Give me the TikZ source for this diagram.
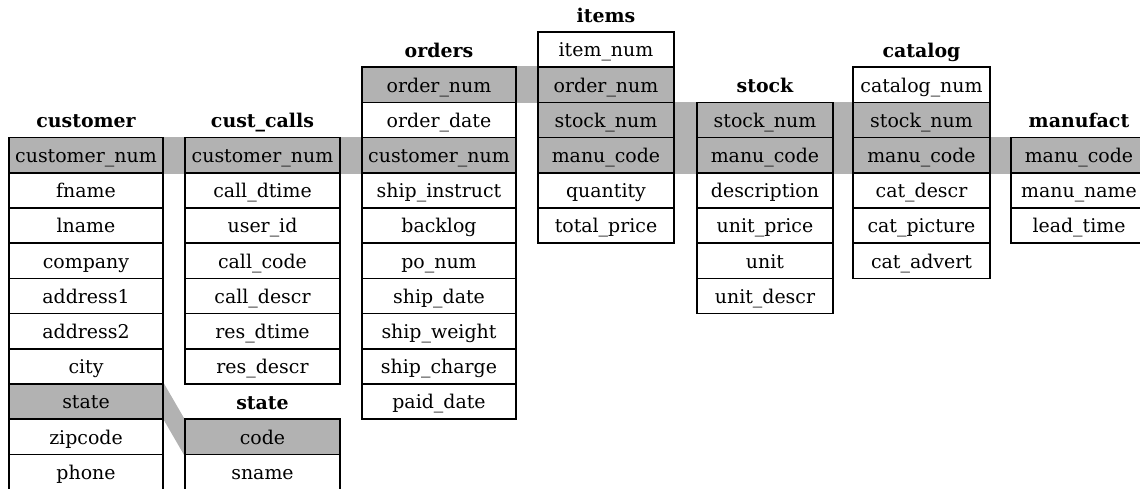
\documentclass[tikz,border=0pt]{standalone}
\usepackage{fontspec}
\setmainfont{DejaVu Serif}
\usepackage{tikz}
\definecolor{keygray}{rgb}{0.7,0.7,0.7}
\pgfdeclarelayer{back}
\pgfsetlayers{back,main}

% name, left, right, top, title, fields
\newcommand{\dbtable}[6]{%
  \node[tabname] (#1-t) at ({(#2+#3)/2},{#4-10}) {#5};
  \foreach \f [count=\i] in {#6}
    \node[field, minimum width={(#3-#2)*0.75pt}] (#1-\i) at ({(#2+#3)/2},{#4+35.2*\i-17.6}) {\f};
}

\begin{document}
\begin{tikzpicture}[x=0.75pt, y=-0.75pt,
  field/.style={draw, line width=1.2pt, inner sep=0pt, minimum height=26.4pt,
    text height=12pt, text depth=1pt, font=\fontsize{14.2}{16}\selectfont},
  tabname/.style={inner sep=0pt, anchor=base, font=\fontsize{14.2}{16}\selectfont\bfseries}]
\useasboundingbox (0,0) rectangle (1140,489);
\clip (0,0) rectangle (1140,489);

\dbtable{customer}{9}{163}{137.6}{customer}{customer\_num, fname, lname, company, address1, address2, city, state, zipcode, phone}
\dbtable{custcalls}{185}{340}{137.6}{cust\_calls}{customer\_num, call\_dtime, user\_id, call\_code, call\_descr, res\_dtime, res\_descr}
\dbtable{state}{185}{340}{419.2}{state}{code, sname}
\dbtable{orders}{362}{516}{67.2}{orders}{order\_num, order\_date, customer\_num, ship\_instruct, backlog, po\_num, ship\_date, ship\_weight, ship\_charge, paid\_date}
\dbtable{items}{538}{674}{32}{items}{item\_num, order\_num, stock\_num, manu\_code, quantity, total\_price}
\dbtable{stock}{697}{833}{102.4}{stock}{stock\_num, manu\_code, description, unit\_price, unit, unit\_descr}
\dbtable{catalog}{853}{990}{67.2}{catalog}{catalog\_num, stock\_num, manu\_code, cat\_descr, cat\_picture, cat\_advert}
\dbtable{manufact}{1011}{1147}{137.6}{manufact}{manu\_code, manu\_name, lead\_time}

% join keys
\begin{pgfonlayer}{back}
\clip (0,0) rectangle (1140,489);
\foreach \k in {customer-1,customer-8,custcalls-1,state-1,orders-1,orders-3,items-2,items-3,items-4,stock-1,stock-2,catalog-2,catalog-3,manufact-1}
  \fill[keygray] (\k.north west) rectangle (\k.south east);
\fill[keygray] (customer-1.north east) rectangle (orders-3.south west);
\fill[keygray] (orders-1.north east) rectangle (items-2.south west);
\fill[keygray] (items-3.north east) rectangle (catalog-3.south west);
\fill[keygray] (catalog-3.north east) rectangle (manufact-1.south west);
\fill[keygray] (customer-8.north east) -- (state-1.north west) -- (state-1.south west) -- (customer-8.south east) -- cycle;
\end{pgfonlayer}
\end{tikzpicture}
\end{document}
